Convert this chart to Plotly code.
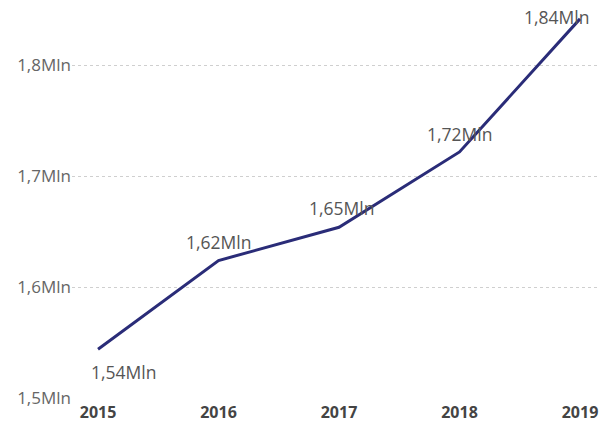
import plotly.graph_objects as go

# Yearly totals (millions)
years = [2015, 2016, 2017, 2018, 2019]
values_mln = [1.544, 1.624, 1.654, 1.722, 1.842]
y_tick_vals = [1.5, 1.6, 1.7, 1.8]
y_tick_text = ["1,5Mln", "1,6Mln", "1,7Mln", "1,8Mln"]

# Label placement offsets (px) per point
label_xshift = [25, 0, 2, 0, -24]
label_yshift = [-23, 19, 19, 18, 2]


def fmt(v):
    return f"{v:.2f}".replace(".", ",") + "Mln"


fig = go.Figure()
fig.add_trace(go.Scatter(
    x=years, y=values_mln, mode="lines",
    line=dict(color="#2A2C78", width=3),
    hoverinfo="skip", showlegend=False,
))

for x, v, dx, dy in zip(years, values_mln, label_xshift, label_yshift):
    fig.add_annotation(
        x=x, y=v, text=fmt(v), showarrow=False,
        xshift=dx, yshift=dy,
        font=dict(family="Open Sans", size=17.5, color="#555555"),
    )

fig.update_layout(
    width=606, height=424,
    margin=dict(l=72, r=6, t=10, b=26),
    paper_bgcolor="white", plot_bgcolor="white",
    font=dict(family="Open Sans"),
)
fig.update_xaxes(
    range=[2014.784, 2019.166],
    tickvals=years, ticktext=[str(y) for y in years],
    tickfont=dict(family="Open Sans", size=16, color="#444444", weight="bold"),
    showgrid=False, zeroline=False, showline=False, ticks="",
    ticklabelstandoff=3, automargin=False,
)
fig.update_yaxes(
    range=[1.5, 1.85],
    tickvals=y_tick_vals, ticktext=y_tick_text,
    tickfont=dict(family="Open Sans", size=17, color="#666666"),
    showgrid=True, gridcolor="#cfcfcf", griddash="dot", gridwidth=1,
    zeroline=False, showline=False, ticks="", automargin=False,
)

fig.write_html("out.html")
